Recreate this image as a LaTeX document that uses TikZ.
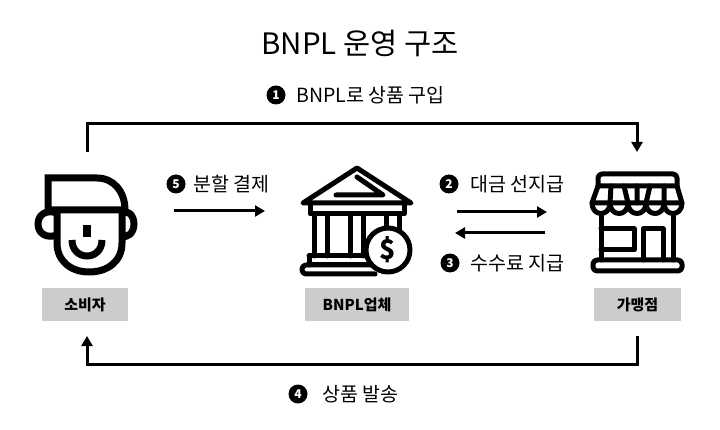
\documentclass[tikz,border=0pt]{standalone}
\usepackage{fontspec}
\setmainfont{Noto Sans CJK KR}
\usetikzlibrary{arrows.meta}
\tikzset{
 flow/.style={line width=3pt,-{Triangle[length=10pt,width=11pt]}},
 lab/.style={font=\fontsize{19.5}{22}\selectfont,inner sep=0pt,anchor=west},
 tag/.style={fill=black!20,minimum height=33pt,inner sep=0pt,font=\fontsize{15}{17}\selectfont\bfseries},
 num/.style={circle,fill=black,text=white,minimum size=19pt,inner sep=0pt,font=\fontsize{12}{12}\selectfont\bfseries},
 ico/.style={line width=7pt,line join=miter,line cap=butt},
 ban/.style={line width=5pt,line join=round,line cap=round},
 sto/.style={line width=5pt,line join=round,line cap=round},
}
\begin{document}
\begin{tikzpicture}[x=1pt,y=-1pt]
\useasboundingbox (0,0) rectangle (720,430);
\node[inner sep=0pt,font=\fontsize{29.5}{34}\selectfont] (title) at (360,43) {BNPL 운영 구조};

% labels
\node[tag,minimum width=86pt] (c) at (85,304.5) {소비자};
\node[tag,minimum width=104pt] (b) at (357,304.5) {BNPL업체};
\node[tag,minimum width=87pt] (m) at (637.5,304.5) {가맹점};

% person
\begin{scope}[ico]
\draw (48,178) -- (97,178) .. controls (114,178) and (125,192) .. (125,210) -- (48,210) -- cycle;
\draw (57,210) -- (57,243) .. controls (57,261) and (71,272) .. (89,272) .. controls (108,272) and (122,261) .. (122,243) -- (122,210);
\draw (57,213) .. controls (46,209) and (38,215) .. (38,224) .. controls (38,233) and (46,239) .. (57,235);
\draw (122,213) .. controls (127,209) and (134,215) .. (134,224) .. controls (134,233) and (127,239) .. (122,235);
\draw (72,240) .. controls (72,250) and (79,256) .. (87,256) .. controls (95,256) and (102,250) .. (102,240);
\end{scope}
\fill (83,225) rectangle (91,237);

% bank
\begin{scope}[ban]
\draw (303,203) -- (357,168) -- (411,203) -- cycle;
\draw (336,195) -- (383,195) -- (357,177);
\draw (310,203) -- (310,214) -- (404,214) -- (404,203);
\draw (314,214) -- (314,256) (327,214) -- (327,256);
\draw (350,214) -- (350,256) (363,214) -- (363,256);
\draw (386,214) -- (386,240) (399,214) -- (399,240);
\draw (309,256) -- (368,256);
\draw (309,256) -- (309,265);
\draw (309,265) -- (368,265);
\draw[rounded corners=4pt] (375,274) -- (302,274) -- (302,265) -- (375,265);
\draw[fill=white] (388,250) circle (22);
\end{scope}
\node[inner sep=0pt,font=\fontsize{27}{30}\selectfont\bfseries] (dollar) at (388,250) {\$};

% store
\begin{scope}[sto]
\draw[rounded corners=4pt] (598,186) -- (598,174) -- (677,174) -- (677,186);
\draw (598,186) -- (677,186) -- (682,203) -- (592,203) -- cycle;
\draw (611,186) -- (610,203) (624,186) -- (628,203) (637,186) -- (637,203) (650,186) -- (646,203) (664,186) -- (664,203);
\draw (592,203) .. controls +(0,14) and +(0,14) .. (610,203) .. controls +(0,14) and +(0,14) .. (628,203) .. controls +(0,14) and +(0,14) .. (646,203) .. controls +(0,14) and +(0,14) .. (664,203) .. controls +(0,14) and +(0,14) .. (682,203);
\draw (601,216) -- (601,260) (673,216) -- (673,260);
\draw (601,229) -- (634,229) -- (634,250) -- (601,250);
\draw (643,260) -- (643,229) -- (663,229) -- (663,260);
\draw[rounded corners=4pt] (593,260) rectangle (682,271);
\end{scope}

% connectors
\coordinate (c1) at (87,152); \coordinate (c2) at (87,124); \coordinate (c3) at (637,124); \coordinate (c4) at (637,152);
\draw[flow] (c1) -- (c2) -- (c3) -- (c4);
\coordinate (d1) at (637,336); \coordinate (d2) at (637,364); \coordinate (d3) at (87,364); \coordinate (d4) at (87,336);
\draw[flow] (d1) -- (d2) -- (d3) -- (d4);
\coordinate (e1) at (174,211); \coordinate (e2) at (265,211);
\draw[flow] (e1) -- (e2);
\coordinate (f1) at (457,212); \coordinate (f2) at (547,212);
\draw[flow] (f1) -- (f2);
\coordinate (g1) at (545,233); \coordinate (g2) at (455,233);
\draw[flow] (g1) -- (g2);

% step labels
\node[num] (n1) at (276,95) {1};
\node[lab] (t1) at (296,95) {BNPL로 상품 구입};
\node[num] (n5) at (176,184) {5};
\node[lab] (t5) at (193,184) {분할 결제};
\node[num] (n2) at (449,184) {2};
\node[lab] (t2) at (470,184) {대금 선지급};
\node[num] (n3) at (450,263) {3};
\node[lab] (t3) at (470,263) {수수료 지급};
\node[num] (n4) at (298,394) {4};
\node[lab] (t4) at (322,394) {상품 발송};
\end{tikzpicture}
\end{document}
